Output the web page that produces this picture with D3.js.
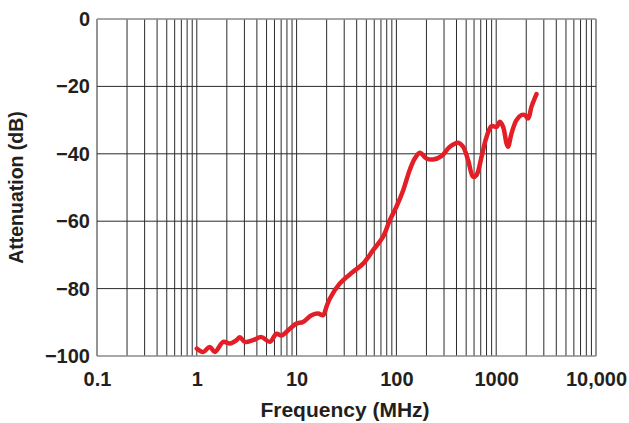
<!DOCTYPE html>
<html>
<head>
<meta charset="utf-8">
<script src="https://cdn.jsdelivr.net/npm/d3@7"></script>
<style>
  html, body { margin: 0; padding: 0; background: #fff; }
  svg { display: block; }
  text { font-family: "Liberation Sans", Arial, sans-serif; font-weight: bold; fill: #231f20; }
</style>
</head>
<body>
<svg id="chart" width="629" height="423"></svg>
<script>
// Attenuation vs frequency
const freq_mhz = [1.0, 1.16, 1.35, 1.52, 1.84, 2.14, 2.5, 2.7, 3.03, 3.66, 4.45, 5.39, 6.29, 7.06, 8.55,
  9.97, 11.6, 14.1, 16.4, 18.4, 19.9, 21.5, 27.1, 36.8, 46.4, 58.4, 73.6, 85.9, 100, 117, 136, 153,
  172, 200, 233, 283, 343, 415, 466, 523, 587, 635, 713, 800, 897, 1007, 1087, 1173, 1268, 1315,
  1422, 1596, 1793, 1935, 2090, 2258, 2534];
const atten_db = [-97.8, -98.8, -97.3, -98.8, -95.8, -96.3, -95.3, -94.4, -95.8, -95.3, -94.4, -95.8,
  -93.4, -93.9, -91.9, -90.4, -89.9, -87.9, -87.4, -87.9, -85.4, -83.0, -78.5, -75.0, -72.6, -68.6,
  -64.6, -59.7, -55.7, -50.8, -44.8, -41.4, -39.7, -41.4, -41.7, -40.7, -37.9, -36.7, -37.9, -41.9,
  -46.8, -46.3, -40.9, -35.0, -31.8, -32.0, -30.5, -32.0, -36.9, -37.9, -34.0, -30.0, -28.5, -28.5,
  -29.5, -26.0, -22.3];

const x_ticks = [0.1, 1, 10, 100, 1000, 10000];
const x_tick_labels = ['0.1', '1', '10', '100', '1000', '10,000'];
const y_ticks = [0, -20, -40, -60, -80, -100];
const y_tick_labels = ['0', '\u221220', '\u221240', '\u221260', '\u221280', '\u2212100'];

const margin = { left: 97, right: 33, top: 19, bottom: 67 };
const width = 629, height = 423;

const svg = d3.select('#chart');

const x = d3.scaleLog().domain([0.1, 10000]).range([margin.left, width - margin.right]);
const y = d3.scaleLinear().domain([-100, 0]).range([height - margin.bottom, margin.top]);

// minor + major vertical grid (2..10 per decade)
const v_lines = [];
for (let d = 0.1; d < 10000; d *= 10) {
  for (let k = 1; k <= 10; k++) v_lines.push(+(d * k).toPrecision(6));
}
const grid = svg.append('g').attr('class', 'grid');
grid.selectAll('line.v')
  .data(Array.from(new Set(v_lines)))
  .enter()
  .append('line')
  .attr('class', 'v')
  .attr('x1', d => x(d)).attr('x2', d => x(d))
  .attr('y1', y(0)).attr('y2', y(-100))
  .attr('stroke', '#2a2a2a')
  .attr('stroke-width', 1);

grid.selectAll('line.h')
  .data(y_ticks)
  .enter()
  .append('line')
  .attr('class', 'h')
  .attr('x1', x(0.1)).attr('x2', x(10000))
  .attr('y1', d => y(d)).attr('y2', d => y(d))
  .attr('stroke', d => (d === 0 || d === -100) ? '#8a8a8a' : '#2a2a2a')
  .attr('stroke-width', d => (d === 0 || d === -100) ? 1.6 : 1);

// axis labels via d3 axes, lines hidden
const x_axis = d3.axisBottom(x)
  .tickValues(x_ticks)
  .tickFormat((d, i) => x_tick_labels[i])
  .tickSize(0)
  .tickPadding(16);
const gx = svg.append('g')
  .attr('transform', `translate(0,${y(-100)})`)
  .call(x_axis);
gx.select('.domain').remove();
gx.selectAll('text')
  .attr('font-size', 20)
  .attr('font-family', '"Liberation Sans", Arial, sans-serif')
  .attr('font-weight', 'bold')
  .attr('fill', '#231f20');

const y_axis = d3.axisLeft(y)
  .tickValues(y_ticks)
  .tickFormat((d, i) => y_tick_labels[i])
  .tickSize(0)
  .tickPadding(7);
const gy = svg.append('g')
  .attr('transform', `translate(${x(0.1)},0)`)
  .call(y_axis);
gy.select('.domain').remove();
gy.selectAll('text')
  .attr('font-size', 20)
  .attr('font-family', '"Liberation Sans", Arial, sans-serif')
  .attr('font-weight', 'bold')
  .attr('fill', '#231f20');

// data line
const pts = freq_mhz.map((f, i) => [f, atten_db[i]]);
const line = d3.line()
  .x(d => x(d[0]))
  .y(d => y(d[1]))
  .curve(d3.curveCatmullRom.alpha(0.5));
svg.append('path')
  .datum(pts)
  .attr('d', line)
  .attr('fill', 'none')
  .attr('stroke', '#e41e26')
  .attr('stroke-width', 4.5)
  .attr('stroke-linejoin', 'round')
  .attr('stroke-linecap', 'round');

// axis titles
svg.append('text')
  .attr('x', 345)
  .attr('y', 417)
  .attr('text-anchor', 'middle')
  .attr('font-size', 21)
  .text('Frequency (MHz)');

svg.append('text')
  .attr('transform', `translate(23,${(y(0) + y(-100)) / 2}) rotate(-90)`)
  .attr('text-anchor', 'middle')
  .attr('font-size', 19.5)
  .text('Attenuation (dB)');
</script>
</body>
</html>
